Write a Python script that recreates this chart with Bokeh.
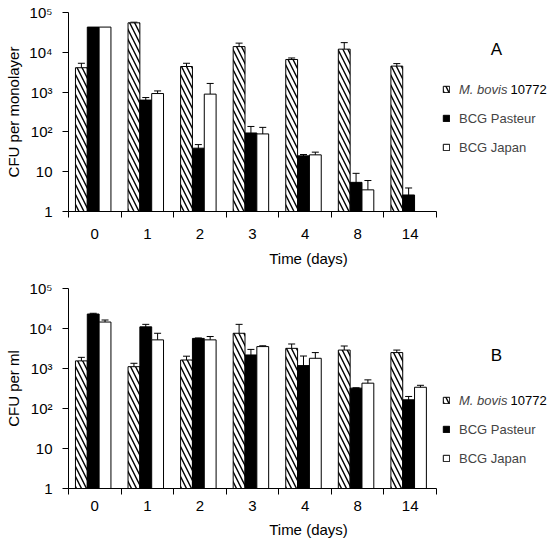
import math
from bokeh.plotting import figure
from bokeh.models import (ColumnDataSource, FixedTicker, CustomJSTickFormatter, Range1d,
                          Whisker, TeeHead, Legend, LegendItem, Label)
from bokeh.layouts import column
from bokeh.embed import file_html
from bokeh.resources import INLINE

nan = float("nan")

# ---------------- data ----------------
days = ["0", "1", "2", "3", "4", "8", "14"]
series_names = ["M. bovis 10772", "BCG Pasteur", "BCG Japan"]
y_tick_values = [1, 10, 100, 1000, 10000, 100000]
y_tick_labels = ["1", "10", "10\u00b2", "10\u00b3", "10\u2074", "10\u2075"]

# Panel A: CFU per monolayer
mbovis_A = [4100, 55000, 4400, 13900, 6600, 12000, 4500]
mbovis_A_hi = [5300, 57000, 5300, 17000, 7200, 17500, 5200]
mbovis_A_lo = [3200, 53000, 3600, 11000, 6000, 8000, 3900]
pasteur_A = [43000, 630, 39, 94, 25, 5.4, 2.6]
pasteur_A_hi = [nan, 730, 48, 137, 27, 9.1, 3.9]
pasteur_A_lo = [nan, 540, 31, 60, 23, 3.0, 1.7]
japan_A = [43000, 920, 890, 89, 26.5, 3.5, nan]
japan_A_hi = [nan, 1070, 1650, 130, 31, 6.0, nan]
japan_A_lo = [nan, 770, 182, 43, 22, 1.3, nan]

# Panel B: CFU per ml
mbovis_B = [1550, 1110, 1630, 7600, 3190, 2890, 2500]
mbovis_B_hi = [1900, 1350, 2030, 12700, 4100, 3650, 2890]
mbovis_B_lo = [1280, 950, 1300, 2900, 2500, 2170, 2150]
pasteur_B = [23000, 11000, 5650, 2180, 1180, 323, 165]
pasteur_B_hi = [24000, 12700, 5800, 3000, 2050, 330, 200]
pasteur_B_lo = [22000, 9500, 5500, 1600, 700, 316, 135]
japan_B = [14500, 5200, 5200, 3530, 1800, 430, 340]
japan_B_hi = [16300, 7600, 6300, 3700, 2500, 520, 380]
japan_B_lo = [12900, 3500, 4300, 3370, 1230, 355, 300]

FONT = "Liberation Sans"
offsets = [0.245, 0.47, 0.695]
bar_w = 0.225
CAT_PX = 368 / 7.0          # pixel width of one day category
FIG_W = 548
LEFT = 68
FRAME_W = FIG_W - LEFT      # frame extends to the right to hold the legend


def make_panel(ylabel, vals, his, los, height, top_border, bottom_border,
               tick_standoff, title_standoff):
    n = len(days)
    p = figure(width=FIG_W, height=height, y_axis_type="log",
               x_range=Range1d(0, FRAME_W / CAT_PX), y_range=Range1d(1, 100000),
               min_border_left=LEFT, min_border_right=0,
               min_border_top=top_border, min_border_bottom=bottom_border,
               output_backend="svg", toolbar_location=None)
    p.outline_line_color = None
    p.xgrid.visible = False
    p.ygrid.visible = False
    p.background_fill_color = "white"
    p.border_fill_color = "white"

    styles = [
        dict(fill_color="white", hatch_pattern="\\", hatch_scale=10, hatch_weight=1.4, hatch_color="black"),
        dict(fill_color="black"),
        dict(fill_color="white"),
    ]
    renderers = []
    for k in range(3):
        xs = [i + offsets[k] for i in range(n)]
        src = ColumnDataSource(dict(x=xs, top=vals[k], bottom=[1] * n,
                                    hi=his[k], lo=los[k]))
        r = p.vbar(x="x", top="top", bottom="bottom", width=bar_w, source=src,
                   line_color="black", line_width=1, **styles[k])
        renderers.append(r)
        w = Whisker(base="x", upper="hi", lower="lo", source=src,
                    line_color="black", line_width=1,
                    upper_head=TeeHead(size=7, line_color="black", line_width=1),
                    lower_head=TeeHead(size=7, line_color="black", line_width=1))
        p.add_layout(w)

    # x axis
    xa = p.xaxis[0]
    xa.bounds = (0, n)
    xa.ticker = FixedTicker(ticks=[i + 0.5 for i in range(n)],
                            minor_ticks=list(range(n + 1)))
    xa.formatter = CustomJSTickFormatter(args=dict(labels=days),
                                         code="return labels[Math.floor(tick)];")
    xa.major_tick_out = 0
    xa.major_tick_in = 0
    xa.minor_tick_out = 6
    xa.minor_tick_in = 0
    xa.minor_tick_line_color = "black"
    xa.axis_line_color = "black"
    xa.major_label_text_font = FONT
    xa.major_label_text_font_size = "15px"
    xa.major_label_text_color = "black"
    xa.major_label_standoff = tick_standoff
    xa.axis_label = "Time (days)"
    xa.axis_label_text_font = FONT
    xa.axis_label_text_font_size = "15px"
    xa.axis_label_text_font_style = "normal"
    xa.axis_label_text_color = "black"
    xa.axis_label_standoff = title_standoff

    # y axis
    ya = p.yaxis[0]
    ya.ticker = FixedTicker(ticks=y_tick_values, minor_ticks=[])
    ya.formatter = CustomJSTickFormatter(args=dict(labels=y_tick_labels),
                                         code="return labels[Math.round(Math.log10(tick))];")
    ya.major_tick_out = 6
    ya.major_tick_in = 0
    ya.minor_tick_line_color = None
    ya.axis_line_color = "black"
    ya.major_label_text_font = FONT
    ya.major_label_text_font_size = "15px"
    ya.major_label_text_color = "black"
    ya.major_label_standoff = 10
    ya.axis_label = ylabel
    ya.axis_label_text_font = FONT
    ya.axis_label_text_font_size = "15px"
    ya.axis_label_text_font_style = "normal"
    ya.axis_label_text_color = "black"
    ya.axis_label_standoff = 4

    return p, renderers


def add_legend(p, renderers, letter, row1_y, row_gap, letter_y):
    lx = 374
    common = dict(glyph_width=8, glyph_height=8, label_standoff=9, padding=0, margin=0,
                  border_line_color=None, background_fill_alpha=0,
                  label_text_font=FONT, label_text_font_size="13px",
                  label_height=15, label_text_baseline="middle")
    leg1 = Legend(items=[LegendItem(label="M. bovis", renderers=[renderers[0]])],
                  location=(lx, row1_y - 7.5), label_text_font_style="italic", **common)
    leg2 = Legend(items=[LegendItem(label=series_names[1], renderers=[renderers[1]]),
                         LegendItem(label=series_names[2], renderers=[renderers[2]])],
                  location=(lx, row1_y - 7.5 - row_gap * 2), spacing=row_gap - 15, **common)
    p.add_layout(leg1, "center")
    p.add_layout(leg2, "center")
    p.add_layout(Label(x=lx + 68, y=row1_y, x_units="screen", y_units="screen",
                       text=series_names[0].split(" ")[-1], text_font=FONT,
                       text_font_size="13px", text_baseline="middle", text_color="black"))
    p.add_layout(Label(x=428, y=letter_y, x_units="screen", y_units="screen",
                       text=letter, text_font=FONT, text_font_size="17px",
                       text_align="center", text_baseline="middle", text_color="black"))


pA, rA = make_panel("CFU per monolayer",
                    [mbovis_A, pasteur_A, japan_A],
                    [mbovis_A_hi, pasteur_A_hi, japan_A_hi],
                    [mbovis_A_lo, pasteur_A_lo, japan_A_lo],
                    272, 12, 61, 11, 8)
add_legend(pA, rA, "A", 122, 29, 162)

pB, rB = make_panel("CFU per ml",
                    [mbovis_B, pasteur_B, japan_B],
                    [mbovis_B_hi, pasteur_B_hi, japan_B_hi],
                    [mbovis_B_lo, pasteur_B_lo, japan_B_lo],
                    268, 16, 52, 6, 7)
add_legend(pB, rB, "B", 88, 29, 133)

layout = column(pA, pB)
open("out.html", "w").write(file_html(layout, INLINE))
